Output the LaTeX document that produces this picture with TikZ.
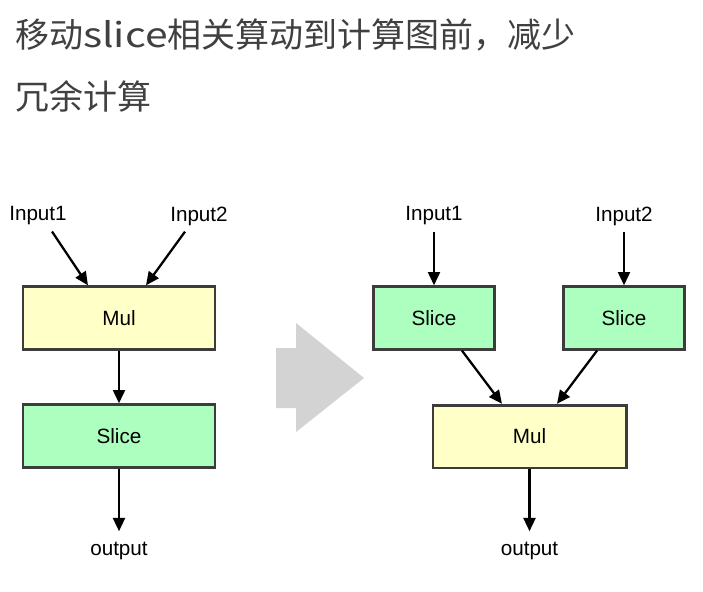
\documentclass[tikz,border=0pt]{standalone}
\usepackage{fontspec}
\setmainfont{Liberation Sans}
\newfontfamily\cjk{Noto Sans CJK SC}
\usepackage{tikz}
\usetikzlibrary{arrows.meta, calc}
\usepackage{xcolor}
\definecolor{boxline}{RGB}{60,60,60}
\definecolor{mulfill}{RGB}{255,255,200}
\definecolor{slicefill}{RGB}{172,255,190}
\definecolor{bigarrow}{RGB}{211,211,211}
\definecolor{titlegrey}{RGB}{64,64,64}
\tikzset{
  opbox/.style={draw=boxline, line width=2pt, minimum height=47pt, inner sep=0pt, font=\fontsize{15.5}{18}\selectfont},
  mulbox/.style={opbox, fill=mulfill},
  slicebox/.style={opbox, fill=slicefill},
  iolabel/.style={inner sep=0pt, font=\fontsize{15.5}{18}\selectfont},
  arr/.style={line width=1.7pt, -{Triangle[length=10pt,width=9pt]}},
  titleline/.style={anchor=base west, inner sep=0pt, text=titlegrey, font=\cjk\fontsize{25.5}{30}\selectfont}
}

\begin{document}
\begin{tikzpicture}[x=0.75pt,y=0.75pt,yscale=-1,xscale=1]
\useasboundingbox (0,0) rectangle (703,592);

% Title
\node (title1) at (15,47.5) [titleline] {移动\scalebox{1.2}[1]{slice}相关算动到计算图前，减少};
\node (title2) at (15,109.5) [titleline] {冗余计算};

% Left graph
\node (inA) at (38,216) [iolabel] {Input1};
\node (inB) at (199,216) [iolabel] {Input2};
\node (mulL) at (119,318) [mulbox, minimum width=144pt] {Mul};
\node (sliceL) at (119,436) [slicebox, minimum width=144pt] {Slice};
\node (outL) at (119,551) [iolabel] {output};

\draw [arr] ($(inA.south)+(14,6)$) -- ($(mulL.north)+(-31,0)$);
\draw [arr] ($(inB.south)+(-14,6)$) -- ($(mulL.north)+(27,0)$);
\draw [arr] (mulL) -- (sliceL);
\draw [arr, shorten >=8pt] (sliceL) -- (outL);

%Shape: Big arrow
\fill [bigarrow] (276,348) -- (296,348) -- (296,323) -- (364,378) -- (296,432) -- (296,408) -- (276,408) -- cycle ;

% Right graph
\node (inC) at (434,216) [iolabel] {Input1};
\node (inD) at (624,216) [iolabel] {Input2};
\node (sliceA) at (434,318) [slicebox, minimum width=91pt] {Slice};
\node (sliceB) at (624,318) [slicebox, minimum width=91pt] {Slice};
\node (mulR) at (529.5,436.5) [mulbox, minimum width=145pt] {Mul};
\node (outR) at (529.5,551) [iolabel] {output};

\draw [arr, shorten <=5pt] (inC) -- (sliceA);
\draw [arr, shorten <=5pt] (inD) -- (sliceB);
\draw [arr] ($(sliceA.south)+(28,0)$) -- ($(mulR.north)+(-27.5,0)$);
\draw [arr] ($(sliceB.south)+(-27,0)$) -- ($(mulR.north)+(27.5,0)$);
\draw [arr, shorten >=8pt] (mulR) -- (outR);
\end{tikzpicture}
\end{document}
